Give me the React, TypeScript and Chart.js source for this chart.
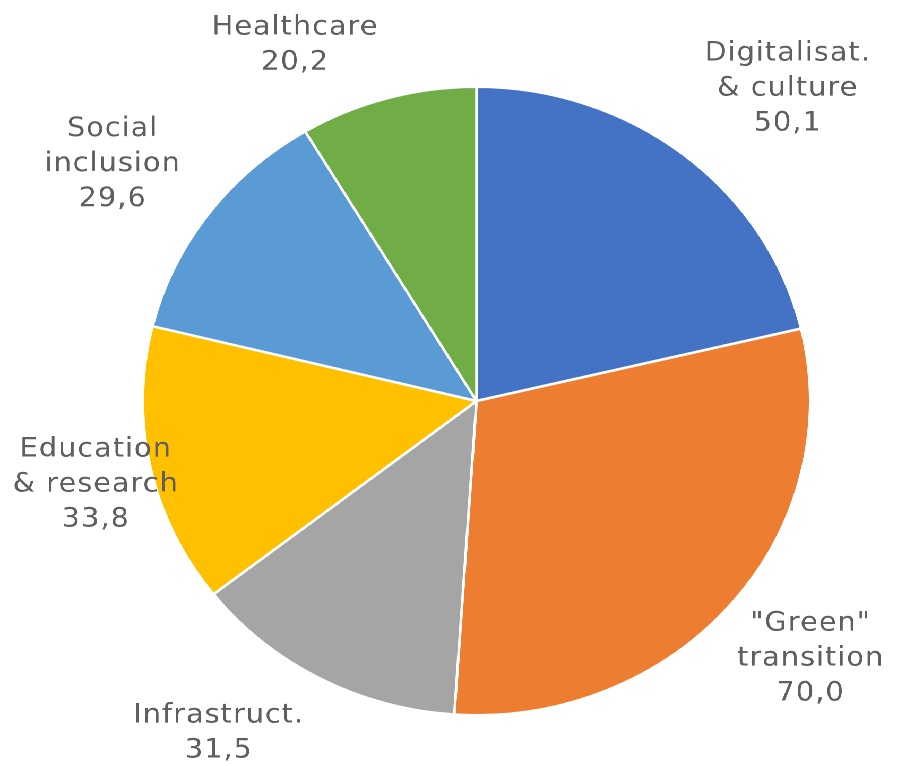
import React, { useEffect, useRef } from "react";
import { Chart, registerables } from "chart.js";

Chart.register(...registerables);

const categories: string[][] = [
  ["Digitalisat.", "& culture"],
  ['"Green"', "transition"],
  ["Infrastruct."],
  ["Education", "& research"],
  ["Social", "inclusion"],
  ["Healthcare"],
];
const values: number[] = [50.1, 70.0, 31.5, 33.8, 29.6, 20.2];
const colors: string[] = ["#4472C4", "#ED7D31", "#A5A5A5", "#FFC000", "#5B9BD5", "#70AD47"];

const W = 845;
const H = 766;
const STRETCH = 897 / W;
const FONT = '27px "DejaVu Sans", sans-serif';
const LINE_H = 35;
const GAP = 32;

const outsideLabels = {
  id: "outsideLabels",
  afterDatasetsDraw(chart: any) {
    const ctx = chart.ctx as CanvasRenderingContext2D;
    const meta = chart.getDatasetMeta(0);
    ctx.save();
    ctx.font = FONT;
    (ctx as any).letterSpacing = "1px";
    ctx.fillStyle = "#5f5f5f";
    ctx.textAlign = "center";
    ctx.textBaseline = "middle";
    meta.data.forEach((arc: any, i: number) => {
      const p = arc.getProps(["x", "y", "startAngle", "endAngle", "outerRadius"], true);
      const mid = (p.startAngle + p.endAngle) / 2;
      const R = p.outerRadius + GAP;
      const lines = [...categories[i], values[i].toFixed(1).replace(".", ",")];
      const h = lines.length * LINE_H;
      const w = Math.max(...lines.map((l) => ctx.measureText(l).width));
      const c = Math.cos(mid);
      const s = Math.sin(mid);
      let px = p.x + c * R + Math.sign(c) * (w / 2);
      let py = p.y + s * R + s * (h / 2);
      const minY = h / 2 + 10;
      const maxY = H - h / 2 + 2;
      py = Math.min(maxY, Math.max(minY, py));
      px = Math.min(W - w / 2 - 12, Math.max(w / 2 + 12, px));
      lines.forEach((line, k) => {
        ctx.fillText(line, px, py - h / 2 + LINE_H / 2 + k * LINE_H);
      });
    });
    ctx.restore();
  },
};

export default function App() {
  const ref = useRef<HTMLCanvasElement | null>(null);
  useEffect(() => {
    if (!ref.current) return;
    const chart = new Chart(ref.current, {
      type: "pie",
      data: {
        labels: categories.map((c) => c.join(" ")),
        datasets: [
          {
            data: values,
            backgroundColor: colors,
            borderColor: "#ffffff",
            borderWidth: 2.5,
          },
        ],
      },
      options: {
        animation: false,
        responsive: false,
        devicePixelRatio: 2,
        layout: { padding: { top: 85.5, bottom: 49.5, left: 133.4, right: 80.6 } },
        plugins: {
          legend: { display: false },
          tooltip: { enabled: false },
        },
      },
      plugins: [outsideLabels],
    });
    return () => chart.destroy();
  }, []);
  return (
    <div
      style={{
        position: "fixed",
        left: 0,
        top: 0,
        width: W,
        height: H,
        background: "#ffffff",
        transform: `scaleX(${STRETCH})`,
        transformOrigin: "0 0",
      }}
    >
      <canvas ref={ref} width={W} height={H} style={{ width: W, height: H, display: "block" }} />
    </div>
  );
}
